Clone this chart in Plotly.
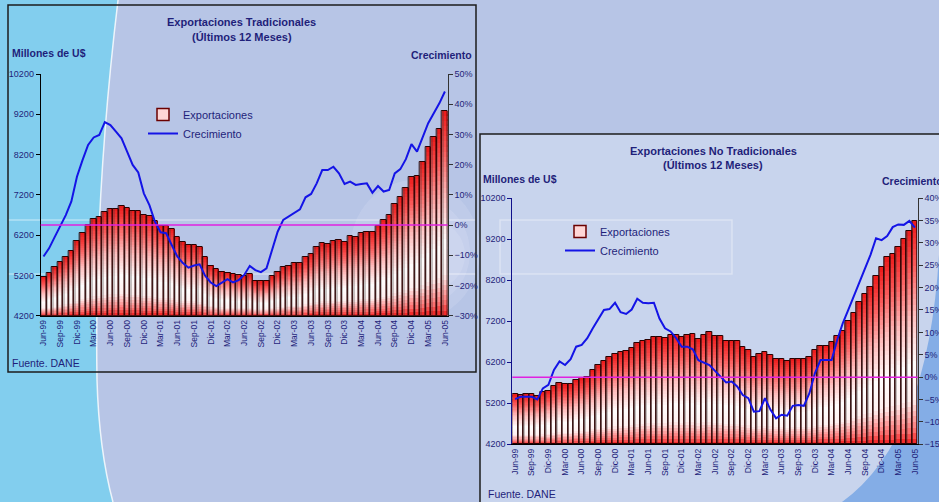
import plotly.graph_objects as go

W, H = 939, 502

tick_labels = ["Jun-99", "Sep-99", "Dic-99", "Mar-00", "Jun-00", "Sep-00", "Dic-00",
               "Mar-01", "Jun-01", "Sep-01", "Dic-01", "Mar-02", "Jun-02", "Sep-02",
               "Dic-02", "Mar-03", "Jun-03", "Sep-03", "Dic-03", "Mar-04", "Jun-04",
               "Sep-04", "Dic-04", "Mar-05", "Jun-05"]

# Exportaciones tradicionales, millones de US$ (ultimos 12 meses), Jun-99 .. Jun-05
trad_exports = [5170, 5250, 5400, 5540, 5665, 5815, 6060, 6245, 6450, 6590,
                6660, 6780, 6855, 6855, 6930, 6865, 6805, 6805, 6700, 6675,
                6550, 6435, 6435, 6360, 6160, 6020, 5965, 5965, 5915, 5665,
                5440, 5350, 5290, 5270, 5235, 5200, 5175, 5225, 5070, 5050,
                5070, 5175, 5290, 5400, 5440, 5500, 5500, 5665, 5725, 5915,
                5995, 5970, 6060, 6080, 6020, 6180, 6160, 6245, 6285, 6285,
                6435, 6575, 6700, 6965, 7155, 7380, 7650, 7675, 8025, 8380,
                8630, 8825, 9290]
trad_growth = [-10.4, -7.7, -4.0, -0.5, 3.3, 7.8, 16.0, 21.5, 26.5, 29.0,
               29.8, 34.1, 33.1, 30.9, 28.7, 24.3, 19.9, 17.4, 10.5, 6.6,
               1.1, -2.4, -2.7, -6.6, -10.4, -12.6, -14.1, -13.4, -13.0, -16.8,
               -19.0, -20.2, -19.0, -17.9, -19.0, -18.2, -16.5, -13.5, -14.9, -15.6,
               -14.3, -8.2, -2.2, 1.7, 2.8, 4.1, 5.2, 9.2, 10.3, 13.8,
               18.2, 18.2, 19.3, 17.1, 13.6, 14.4, 13.3, 13.6, 13.8, 10.7,
               12.9, 11.1, 11.6, 17.1, 18.5, 21.8, 26.8, 24.3, 29.3, 33.7,
               37.0, 40.3, 44.2]

# Exportaciones no tradicionales
nontrad_exports = [5420, 5400, 5420, 5420, 5385, 5485, 5500, 5620, 5685, 5660,
                   5660, 5765, 5825, 5850, 6010, 6125, 6230, 6320, 6400, 6440,
                   6480, 6540, 6660, 6725, 6740, 6820, 6805, 6780, 6865, 6865,
                   6820, 6865, 6885, 6765, 6870, 6930, 6840, 6840, 6725, 6725,
                   6710, 6580, 6500, 6335, 6390, 6455, 6375, 6285, 6285, 6240,
                   6285, 6285, 6285, 6335, 6490, 6595, 6605, 6700, 6845, 6970,
                   7210, 7390, 7675, 7860, 8040, 8300, 8510, 8755, 8830, 9000,
                   9195, 9405, 9630]
nontrad_growth = [-4.9, -4.4, -4.4, -4.4, -5.0, -2.5, -1.7, 1.6, 3.5, 2.7,
                  4.0, 6.8, 7.2, 8.7, 10.9, 13.1, 15.0, 15.2, 16.6, 14.5,
                  14.1, 15.1, 17.5, 16.6, 16.5, 16.6, 13.1, 10.9, 10.2, 8.7,
                  6.8, 6.8, 6.2, 3.8, 3.3, 2.7, 1.4, 0.1, -1.2, -1.0,
                  -2.1, -4.0, -4.7, -7.7, -7.6, -4.7, -7.3, -9.2, -8.4, -8.6,
                  -6.4, -6.2, -6.4, -3.6, 0.9, 3.8, 3.8, 3.8, 8.3, 12.0,
                  15.0, 18.0, 21.3, 23.9, 27.3, 31.0, 30.6, 31.5, 33.5, 34.1,
                  34.0, 34.9, 33.4]

months = list(range(len(trad_exports)))
tick_pos = months[::3]

NAVY = "#1f1f7a"
BASE = 4200
N_BANDS = 40

# red -> white -> red fill of each column (fraction of column height from bottom)
grad_stops = [(0.0, (240, 25, 25)), (0.06, (252, 110, 110)), (0.2, (255, 240, 240)),
              (0.36, (255, 253, 253)), (0.58, (255, 190, 190)), (0.82, (250, 85, 85)),
              (1.0, (236, 24, 24))]


def grad_color(f):
    for (f0, c0), (f1, c1) in zip(grad_stops, grad_stops[1:]):
        if f <= f1:
            t = (f - f0) / (f1 - f0)
            return "rgb(%d,%d,%d)" % tuple(round(a + (b - a) * t) for a, b in zip(c0, c1))
    return "rgb(%d,%d,%d)" % grad_stops[-1][1]


def add_panel(fig, values, growth, xa, ya, ya2, legend):
    heights = [v - BASE for v in values]
    for k in range(N_BANDS):
        f0 = k / N_BANDS
        f1 = min(1.0, (k + 1) / N_BANDS + 0.008)
        fig.add_trace(go.Bar(
            x=months, y=[h * (f1 - f0) for h in heights], base=[BASE + h * f0 for h in heights],
            marker=dict(color=grad_color((k + 0.5) / N_BANDS), line_width=0),
            xaxis=xa, yaxis=ya, showlegend=False, hoverinfo="skip"))
    # grey shading on the left side of every column
    fig.add_trace(go.Bar(
        x=months, y=heights, base=BASE, width=0.25, offset=-0.5,
        marker=dict(color="rgba(60,60,60,0.3)", line_width=0),
        xaxis=xa, yaxis=ya, showlegend=False, hoverinfo="skip"))
    # column outlines
    fig.add_trace(go.Bar(
        x=months, y=heights, base=BASE,
        marker=dict(color="rgba(0,0,0,0)", line=dict(color="#2a0000", width=1)),
        xaxis=xa, yaxis=ya, showlegend=False, hoverinfo="skip"))
    fig.add_trace(go.Bar(
        x=[None], y=[None], name="Exportaciones",
        marker=dict(color="#ffd6d6", line=dict(color="#6b0000", width=1.5)),
        xaxis=xa, yaxis=ya, legend=legend))
    fig.add_trace(go.Scatter(
        x=months, y=growth, mode="lines", name="Crecimiento",
        line=dict(color="#1414e6", width=2),
        xaxis=xa, yaxis=ya2, legend=legend))


fig = go.Figure()
add_panel(fig, trad_exports, trad_growth, "x", "y", "y2", "legend")
add_panel(fig, nontrad_exports, nontrad_growth, "x2", "y3", "y4", "legend2")


def pt(x, y):
    return f"{x / W:.4f},{1 - y / H:.4f}"


shapes = [
    # sky background
    dict(type="path", xref="paper", yref="paper", layer="below", line_width=0,
         fillcolor="#82ceee",
         path=f"M {pt(0, 0)} L {pt(118, 0)} Q {pt(94, 200)} {pt(97, 380)} "
              f"Q {pt(99, 450)} {pt(113, 502)} L {pt(0, 502)} Z"),
    dict(type="path", xref="paper", yref="paper", layer="below",
         line=dict(color="rgba(255,255,255,0.8)", width=1.5),
         path=f"M {pt(118, 0)} Q {pt(94, 200)} {pt(97, 380)} Q {pt(99, 450)} {pt(113, 502)}"),
    dict(type="circle", xref="paper", yref="paper", layer="below", line_width=0,
         fillcolor="rgba(240,244,253,0.15)",
         x0=350 / W, x1=480 / W, y0=1 - 320 / H, y1=1 - 180 / H),
    dict(type="circle", xref="paper", yref="paper", layer="below", line_width=0,
         fillcolor="rgba(240,244,253,0.15)",
         x0=375 / W, x1=470 / W, y0=1 - 305 / H, y1=1 - 200 / H),
    dict(type="circle", xref="paper", yref="paper", layer="below", line_width=0,
         fillcolor="rgba(240,244,253,0.15)",
         x0=395 / W, x1=465 / W, y0=1 - 290 / H, y1=1 - 220 / H),
    dict(type="line", xref="paper", yref="paper", layer="below",
         line=dict(color="rgba(255,255,255,0.3)", width=2),
         x0=8 / W, x1=476 / W, y0=1 - 220 / H, y1=1 - 220 / H),
    dict(type="line", xref="paper", yref="paper", layer="below",
         line=dict(color="rgba(255,255,255,0.3)", width=2),
         x0=8 / W, x1=476 / W, y0=1 - 274 / H, y1=1 - 274 / H),
    # lighter, cloudy second panel
    dict(type="rect", xref="paper", yref="paper", layer="below", line_width=0,
         fillcolor="rgba(222,230,247,0.45)",
         x0=480 / W, x1=1, y0=0, y1=1 - 134 / H),
    dict(type="path", xref="paper", yref="paper", layer="below", line_width=0,
         fillcolor="rgba(120,166,228,0.85)",
         path=f"M {pt(939, 255)} Q {pt(928, 440)} {pt(842, 502)} L {pt(939, 502)} Z"),
    dict(type="rect", xref="paper", yref="paper", layer="below",
         line=dict(color="rgba(255,255,255,0.35)", width=1.5),
         fillcolor="rgba(255,255,255,0.06)",
         x0=500 / W, x1=732 / W, y0=1 - 274 / H, y1=1 - 220 / H),
    # panel frames
    dict(type="rect", xref="paper", yref="paper", layer="below",
         line=dict(color="#1c1c1c", width=1.5),
         x0=8 / W, x1=476 / W, y0=1 - 372 / H, y1=1 - 5 / H),
    dict(type="rect", xref="paper", yref="paper", layer="below",
         line=dict(color="#1c1c1c", width=1.5),
         x0=480 / W, x1=950 / W, y0=-0.05, y1=1 - 134 / H),
    # 0% reference lines
    dict(type="line", xref="x domain", yref="y2", x0=0, x1=1, y0=0, y1=0,
         line=dict(color="#e020e0", width=1.5)),
    dict(type="line", xref="x2 domain", yref="y4", x0=0, x1=1, y0=0, y1=0,
         line=dict(color="#e020e0", width=1.5)),
]


def label(x, y, text, size=10.5, xanchor="left"):
    return dict(x=x / W, y=1 - y / H, xref="paper", yref="paper", text=text,
                showarrow=False, xanchor=xanchor, yanchor="middle",
                font=dict(size=size, color=NAVY))


annotations = [
    label(242, 22, "<b>Exportaciones Tradicionales</b>", size=11, xanchor="center"),
    label(242, 37, "<b>(Últimos 12 Meses)</b>", size=11, xanchor="center"),
    label(10, 53, "<b>Millones de U$</b>"),
    label(474, 55, "<b>Crecimiento</b>", xanchor="right"),
    label(10, 363, "Fuente. DANE"),
    label(713, 151, "<b>Exportaciones No Tradicionales</b>", size=11, xanchor="center"),
    label(713, 165, "<b>(Últimos 12 Meses)</b>", size=11, xanchor="center"),
    label(481, 179, "<b>Millones de U$</b>"),
    label(880, 181, "<b>Crecimiento</b>"),
    label(486, 494, "Fuente. DANE"),
]

xcommon = dict(range=[-0.5, 72.5], tickvals=tick_pos, ticktext=tick_labels, tickangle=-90,
               tickfont=dict(size=8.5, color=NAVY), showline=True, linecolor="black",
               showgrid=False, zeroline=False, ticks="", automargin=False)
ycommon = dict(range=[4200, 10200], tick0=4200, dtick=1000, tickformat="d",
               ticks="outside", ticklen=4, showline=True, showgrid=False, zeroline=False,
               tickfont=dict(size=9, color=NAVY), automargin=False)
rcommon = dict(side="right", ticks="outside", ticklen=4, ticksuffix="%", showline=True,
               linecolor="#333333", tickcolor="#333333", showgrid=False, zeroline=False,
               tickfont=dict(size=9, color=NAVY), automargin=False)

fig.update_layout(
    width=W, height=H, margin=dict(l=0, r=0, t=0, b=0),
    paper_bgcolor="#b7c5e6", plot_bgcolor="rgba(0,0,0,0)",
    barmode="overlay", bargap=0,
    font=dict(family="Liberation Sans, Arial, sans-serif", color=NAVY),
    xaxis=dict(domain=[40.7 / W, 447.7 / W], anchor="y", **xcommon),
    yaxis=dict(domain=[1 - 315.7 / H, 1 - 74 / H], anchor="x",
               linecolor="black", tickcolor="black", **ycommon),
    yaxis2=dict(overlaying="y", anchor="x", range=[-30, 50], dtick=10, **rcommon),
    xaxis2=dict(domain=[512.3 / W, 917.7 / W], anchor="y3", **xcommon),
    yaxis3=dict(domain=[1 - 444.3 / H, 1 - 198 / H], anchor="x2",
                linecolor="#10108a", tickcolor="#10108a", **ycommon),
    yaxis4=dict(overlaying="y3", anchor="x2", range=[-15, 40], dtick=5, **rcommon),
    legend=dict(x=143 / W, y=1 - 100 / H, xanchor="left", yanchor="top",
                bgcolor="rgba(0,0,0,0)", font=dict(size=11, color=NAVY),
                tracegroupgap=0),
    legend2=dict(x=560 / W, y=1 - 217 / H, xanchor="left", yanchor="top",
                 bgcolor="rgba(0,0,0,0)", font=dict(size=11, color=NAVY),
                 tracegroupgap=0),
    shapes=shapes,
    annotations=annotations,
    showlegend=True,
)

# the page's default 8px body margin would shift the figure; remove it
fig.write_html("out.html", config={"displayModeBar": False},
               post_script="document.body.style.margin='0';")
